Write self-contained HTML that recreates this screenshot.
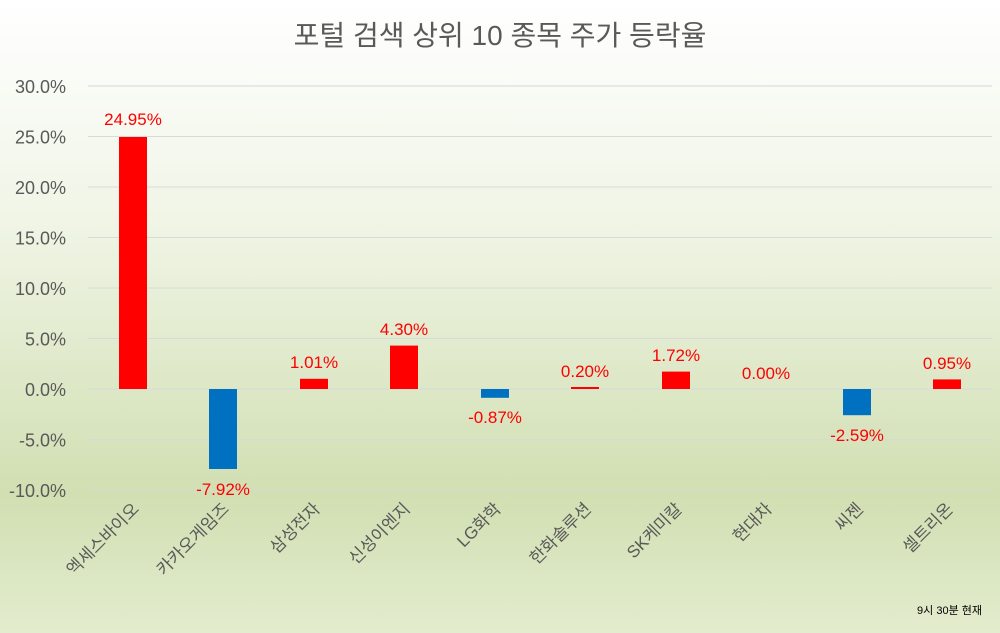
<!DOCTYPE html><html><head><meta charset="utf-8"><style>body{margin:0}svg{display:block;font-family:"Liberation Sans","Noto Sans CJK KR",sans-serif}</style></head><body>
<svg width="1000" height="633" xmlns="http://www.w3.org/2000/svg">
<defs><linearGradient id="g" x1="0" y1="0" x2="0" y2="1">
<stop offset="0" stop-color="#ffffff"/><stop offset="0.35" stop-color="#f0f5e6"/><stop offset="0.78" stop-color="#d1dfb2"/><stop offset="1" stop-color="#e3ecce"/></linearGradient></defs>
<rect width="1000" height="633" fill="url(#g)"/>
<text x="500" y="45" text-anchor="middle" font-size="28" fill="#595959">포털 검색 상위 10 종목 주가 등락율</text>
<g stroke="#d9d9d9" stroke-width="1">
<line x1="88" x2="992" y1="86" y2="86"/><line x1="88" x2="992" y1="136.5" y2="136.5"/><line x1="88" x2="992" y1="187" y2="187"/><line x1="88" x2="992" y1="237.5" y2="237.5"/><line x1="88" x2="992" y1="288" y2="288"/><line x1="88" x2="992" y1="338.5" y2="338.5"/><line x1="88" x2="992" y1="389" y2="389"/><line x1="88" x2="992" y1="439.5" y2="439.5"/><line x1="88" x2="992" y1="490" y2="490"/>
</g>
<g font-size="18" fill="#595959" text-anchor="end">
<text x="66" y="93">30.0%</text><text x="66" y="143.5">25.0%</text><text x="66" y="194">20.0%</text><text x="66" y="244.5">15.0%</text><text x="66" y="295">10.0%</text><text x="66" y="345.5">5.0%</text><text x="66" y="396">0.0%</text><text x="66" y="446.5">-5.0%</text><text x="66" y="497">-10.0%</text>
</g>
<g>
<rect x="119" y="137" width="28" height="252" fill="#ff0000"/>
<rect x="209" y="389" width="28" height="80" fill="#0070c0"/>
<rect x="300" y="378.8" width="28" height="10.2" fill="#ff0000"/>
<rect x="390" y="345.6" width="28" height="43.4" fill="#ff0000"/>
<rect x="481" y="389" width="28" height="8.8" fill="#0070c0"/>
<rect x="571" y="387" width="28" height="2" fill="#ff0000"/>
<rect x="662" y="371.6" width="28" height="17.4" fill="#ff0000"/>
<rect x="843" y="389" width="28" height="26.2" fill="#0070c0"/>
<rect x="933" y="379.4" width="28" height="9.6" fill="#ff0000"/>
</g>
<g font-size="17" fill="#ff0000" text-anchor="middle">
<text x="133" y="125">24.95%</text><text x="223" y="495">-7.92%</text><text x="314" y="368">1.01%</text><text x="404" y="335">4.30%</text><text x="495" y="423">-0.87%</text><text x="585" y="377">0.20%</text><text x="676" y="361">1.72%</text><text x="766" y="379">0.00%</text><text x="857" y="441">-2.59%</text><text x="947" y="369">0.95%</text>
</g>
<g font-size="17" fill="#595959" text-anchor="end">
<text transform="translate(140,510) rotate(-45)">엑세스바이오</text>
<text transform="translate(230,510) rotate(-45)">카카오게임즈</text>
<text transform="translate(321,510) rotate(-45)">삼성전자</text>
<text transform="translate(411,510) rotate(-45)">신성이엔지</text>
<text transform="translate(502,510) rotate(-45)">LG화학</text>
<text transform="translate(592,510) rotate(-45)">한화솔루션</text>
<text transform="translate(683,510) rotate(-45)">SK케미칼</text>
<text transform="translate(773,510) rotate(-45)">현대차</text>
<text transform="translate(864,510) rotate(-45)">씨젠</text>
<text transform="translate(954,510) rotate(-45)">셀트리온</text>
</g>
<text x="982" y="614" text-anchor="end" font-size="11" fill="#000">9시 30분 현재</text>
</svg></body></html>
